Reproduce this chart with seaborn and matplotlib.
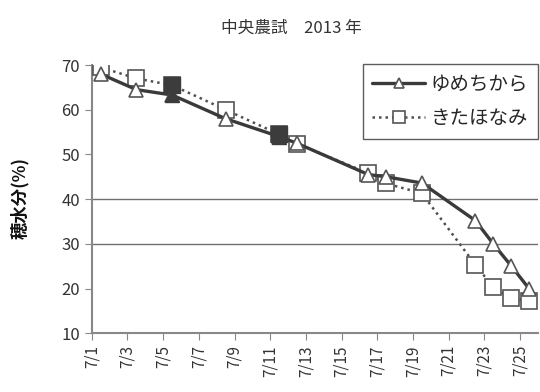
import matplotlib
matplotlib.use("Agg")
import matplotlib.pyplot as plt
import seaborn as sns
import pandas as pd

# days in July
days = [1, 3, 5, 8, 11, 12, 16, 17, 19, 22, 23, 24, 25]
yume = [68, 64.5, 63.3, 58, 54, 52.5, 45.5, 45, 43.6, 35.2, 30, 25.1, 20]
kita = [69.5, 67, 65.5, 60, 54.5, 52.4, 45.8, 43.5, 41.3, 25.3, 20.3, 17.8, 17.2]
filled_days = [5, 11]  # dark markers
tick_days = list(range(1, 26, 2))
tick_labels = ["7/%d" % d for d in tick_days]

df = pd.DataFrame({"day": days, "yume": yume, "kita": kita})
df_fill = df[df["day"].isin(filled_days)]

sns.set_style("white")
plt.rcParams["font.family"] = ["Noto Sans CJK JP", "DejaVu Sans"]

fig, ax = plt.subplots(figsize=(5.4, 3.92), dpi=100)
fig.subplots_adjust(left=0.170, right=0.996, top=0.834, bottom=0.150)

# grid lines at 30 and 40 only
for g in [30, 40]:
    ax.axhline(g, color="#707070", lw=1.0, zorder=0)

sns.lineplot(data=df, x="day", y="kita", ax=ax, color="#505050", lw=1.8,
             linestyle=(0, (1, 1.6)), marker="s", markersize=11,
             markerfacecolor="white", markeredgecolor="#555555",
             markeredgewidth=1.2, label="きたほなみ", zorder=3)
sns.lineplot(data=df, x="day", y="yume", ax=ax, color="#3a3a3a", lw=2.4,
             marker="^", markersize=10.5, markerfacecolor="white",
             markeredgecolor="#555555", markeredgewidth=1.2,
             label="ゆめちから", zorder=4)

# filled markers
ax.plot(df_fill["day"], df_fill["kita"], "s", ms=11, color="#3c3c3c",
        mec="#3c3c3c", zorder=5)
ax.plot(df_fill["day"], df_fill["yume"], "^", ms=10.5, color="#3c3c3c",
        mec="#3c3c3c", zorder=6)

ax.set_xlim(0.5, 25.5)
ax.set_ylim(10, 70)
ax.set_xticks([d - 0.5 for d in tick_days])
ax.set_xticklabels(tick_labels, rotation=90, fontsize=11, color="#333333")
ax.set_yticks(range(10, 71, 10))
ax.tick_params(axis="y", labelsize=12, colors="#333333", length=5,
               direction="out", left=True, color="#888888")
ax.tick_params(axis="x", length=5, direction="out", bottom=True, color="#888888")
for lab in ax.get_yticklabels():
    lab.set_color("#333333")

for s in ["top", "right"]:
    ax.spines[s].set_visible(False)
for s in ["left", "bottom"]:
    ax.spines[s].set_color("#888888")
    ax.spines[s].set_linewidth(1.5)

ax.set_xlabel("")
ax.set_ylabel("")
fig.text(0.036, 0.495, "穂水分(%)", rotation=90, ha="center", va="center",
         fontsize=12.5, fontweight="bold", color="#111111")

fig.text(0.54, 0.928, "中央農試　2013 年", ha="center", va="center",
         fontsize=12, color="#333333")

# legend order: yume first
h, l = ax.get_legend_handles_labels()
order = [l.index("ゆめちから"), l.index("きたほなみ")]
leg = ax.legend([h[i] for i in order], [l[i] for i in order],
                loc="upper right", bbox_to_anchor=(1.0, 1.005),
                borderaxespad=0, fontsize=14, handlelength=2.7,
                labelspacing=0.7, frameon=True, fancybox=False,
                edgecolor="#333333", markerscale=0.75, handletextpad=0.3,
                borderpad=0.5)
leg.get_frame().set_linewidth(1.0)

fig.savefig("out.png", dpi=100)
